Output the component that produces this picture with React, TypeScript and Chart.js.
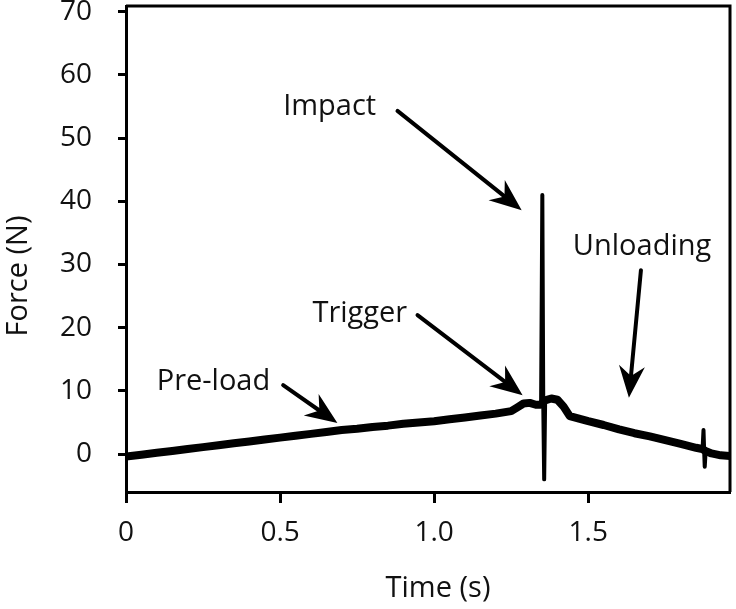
import React, { useEffect, useRef } from "react";
import { Chart, registerables } from "chart.js";

Chart.register(...registerables);

// Force trace (time in s, force in N)
const traceTime = [0.0, 0.05, 0.1, 0.15, 0.2, 0.25, 0.3, 0.35, 0.4, 0.45, 0.5, 0.55, 0.6, 0.65, 0.7, 0.75, 0.8, 0.85, 0.9, 0.95, 1.0, 1.05, 1.1, 1.15, 1.2, 1.25, 1.27, 1.29, 1.31, 1.33, 1.345, 1.36, 1.38, 1.4, 1.42, 1.44, 1.47, 1.5, 1.55, 1.6, 1.65, 1.7, 1.75, 1.8, 1.85, 1.87, 1.88, 1.9, 1.93, 1.96];
const traceForce = [-0.4, -0.1, 0.2, 0.5, 0.8, 1.1, 1.4, 1.7, 2.0, 2.3, 2.6, 2.9, 3.2, 3.5, 3.8, 4.0, 4.3, 4.5, 4.8, 5.0, 5.2, 5.5, 5.8, 6.1, 6.4, 6.8, 7.4, 8.0, 8.1, 7.8, 7.8, 8.5, 8.8, 8.6, 7.5, 6.0, 5.6, 5.2, 4.6, 3.9, 3.3, 2.8, 2.2, 1.6, 1.0, 0.8, 0.5, 0.1, -0.2, -0.3];

// Impact spike
const impactTime = [1.347, 1.351, 1.354, 1.357, 1.36];
const impactForce = [8.0, 41.0, 8.0, -4.0, 8.0];

// Small spike at end
const endSpikeTime = [1.871, 1.874, 1.876, 1.878, 1.881];
const endSpikeForce = [0.8, 3.8, 0.7, -2.0, 0.5];

// Annotations (data coordinates)
const labelTexts = ["Impact", "Trigger", "Pre-load", "Unloading"];
const labelX = [0.51, 0.605, 0.468, 1.45];
const labelY = [53.6, 20.9, 10.1, 31.5];
const labelAlign = ["left", "left", "right", "left"];
const arrowFromX = [0.881, 0.946, 0.51, 1.671];
const arrowFromY = [54.3, 22.0, 10.9, 29.1];
const arrowToX = [1.284, 1.287, 0.686, 1.632];
const arrowToY = [38.6, 9.3, 4.9, 8.9];

const xTitle = "Time (s)";
const yTitle = "Force (N)";

const FONT = "'Open Sans', 'DejaVu Sans', sans-serif";

function toPoints(xs: number[], ys: number[]) {
  return xs.map((x, i) => ({ x, y: ys[i] }));
}

const annotationPlugin = {
  id: "annotations",
  afterDraw(chart: any) {
    const { ctx, chartArea, scales } = chart;
    const xs = scales.x;
    const ys = scales.y;
    ctx.save();
    // top & right frame
    ctx.strokeStyle = "#000";
    ctx.lineWidth = 3;
    ctx.beginPath();
    ctx.moveTo(chartArea.left, chartArea.top);
    ctx.lineTo(chartArea.right, chartArea.top);
    ctx.lineTo(chartArea.right, chartArea.bottom);
    ctx.stroke();

    // labels
    ctx.fillStyle = "#111";
    ctx.font = `29px ${FONT}`;
    ctx.textBaseline = "alphabetic";
    labelTexts.forEach((t, i) => {
      ctx.textAlign = labelAlign[i];
      ctx.fillText(t, xs.getPixelForValue(labelX[i]), ys.getPixelForValue(labelY[i]));
    });

    // arrows
    arrowFromX.forEach((_, i) => {
      const x1 = xs.getPixelForValue(arrowFromX[i]);
      const y1 = ys.getPixelForValue(arrowFromY[i]);
      const x2 = xs.getPixelForValue(arrowToX[i]);
      const y2 = ys.getPixelForValue(arrowToY[i]);
      const ang = Math.atan2(y2 - y1, x2 - x1);
      const headLen = 32;
      const headHalf = 13;
      const notch = 22;
      const ux = Math.cos(ang), uy = Math.sin(ang);
      const px = -uy, py = ux;
      ctx.strokeStyle = "#000";
      ctx.lineWidth = 4;
      ctx.lineCap = "round";
      ctx.beginPath();
      ctx.moveTo(x1, y1);
      ctx.lineTo(x2 - ux * notch, y2 - uy * notch);
      ctx.stroke();
      ctx.fillStyle = "#000";
      ctx.beginPath();
      ctx.moveTo(x2, y2);
      ctx.lineTo(x2 - ux * headLen + px * headHalf, y2 - uy * headLen + py * headHalf);
      ctx.lineTo(x2 - ux * notch, y2 - uy * notch);
      ctx.lineTo(x2 - ux * headLen - px * headHalf, y2 - uy * headLen - py * headHalf);
      ctx.closePath();
      ctx.fill();
    });

    // axis titles
    ctx.fillStyle = "#111";
    ctx.font = `29px ${FONT}`;
    ctx.textAlign = "center";
    ctx.textBaseline = "alphabetic";
    ctx.fillText(xTitle, 438, 597);
    ctx.translate(27, 276);
    ctx.rotate(-Math.PI / 2);
    ctx.fillText(yTitle, 0, 0);
    ctx.restore();
  },
};

export default function App() {
  const ref = useRef<HTMLCanvasElement>(null);
  useEffect(() => {
    document.body.style.margin = "0";
    const chart = new Chart(ref.current!, {
      type: "scatter",
      data: {
        datasets: [
          {
            data: toPoints(traceTime, traceForce),
            showLine: true,
            borderColor: "#000",
            borderWidth: 8,
            pointRadius: 0,
            borderJoinStyle: "round",
            borderCapStyle: "round",
          },
          {
            data: toPoints(impactTime, impactForce),
            showLine: true,
            borderColor: "#000",
            borderWidth: 4,
            pointRadius: 0,
            borderJoinStyle: "round",
          },
          {
            data: toPoints(endSpikeTime, endSpikeForce),
            showLine: true,
            borderColor: "#000",
            borderWidth: 4,
            pointRadius: 0,
            borderJoinStyle: "round",
          },
        ],
      },
      options: {
        animation: false,
        responsive: false,
        layout: { padding: { top: 6, right: 6, left: 0, bottom: 0 } },
        plugins: { legend: { display: false }, tooltip: { enabled: false } },
        scales: {
          x: {
            type: "linear",
            min: 0,
            max: 1.96,
            afterFit: (s: any) => { s.height = 117; s.paddingLeft = 0; s.paddingRight = 0; },
            border: { display: true, color: "#000", width: 3 },
            grid: { display: true, drawOnChartArea: false, drawTicks: true, tickLength: 11, tickWidth: 3, tickColor: "#000" },
            ticks: {
              stepSize: 0.5,
              includeBounds: false,
              color: "#111",
              padding: 13,
              font: { family: FONT, size: 28 },
              maxRotation: 0,
              callback: (v: any) => (v === 0 ? "0" : Number(v).toFixed(1)),
            },
          },
          y: {
            type: "linear",
            min: -6,
            max: 70.9,
            afterFit: (s: any) => { s.width = 126; s.paddingTop = 0; s.paddingBottom = 0; },
            border: { display: true, color: "#000", width: 3 },
            grid: { display: true, drawOnChartArea: false, drawTicks: true, tickLength: 8, tickWidth: 3, tickColor: "#000" },
            ticks: {
              stepSize: 10,
              includeBounds: false,
              color: "#111",
              padding: 26,
              font: { family: FONT, size: 28 },
            },
          },
        },
      },
      plugins: [annotationPlugin],
    });
    return () => chart.destroy();
  }, []);
  return (
    <div style={{ position: "absolute", left: 0, top: 0, width: 736, height: 609 }}>
      <canvas ref={ref} width={736} height={609} style={{ width: 736, height: 609 }} />
    </div>
  );
}
